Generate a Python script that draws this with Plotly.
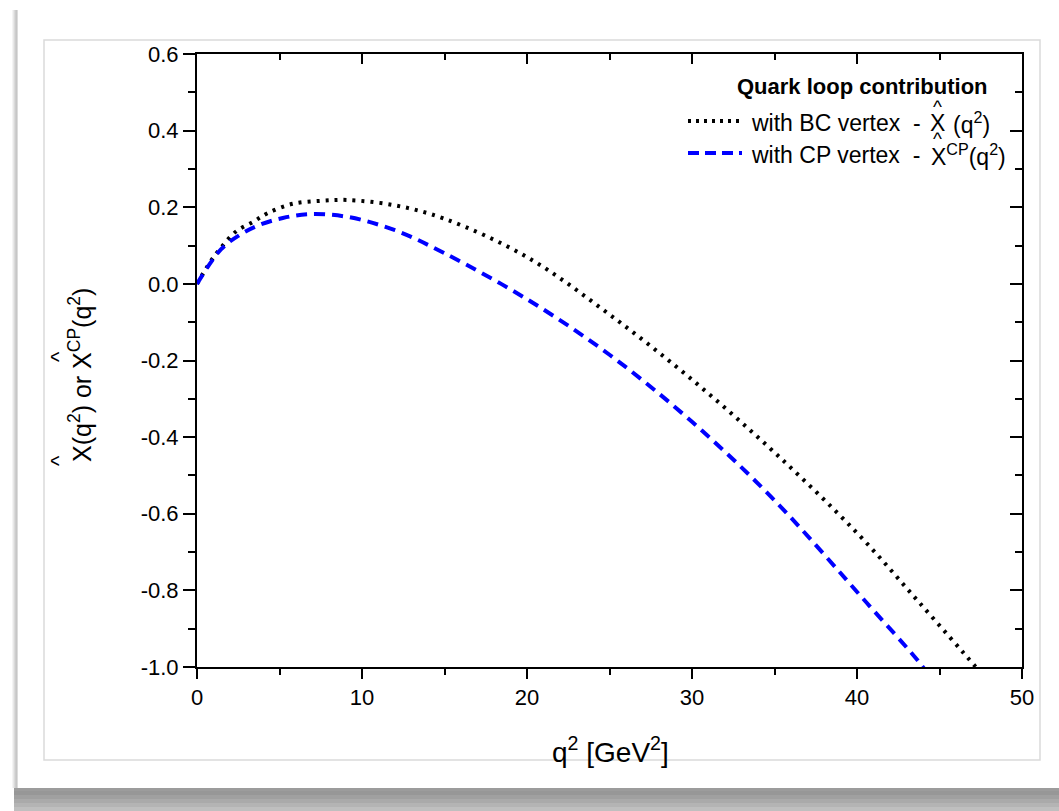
import plotly.graph_objects as go

# q^2 grid and quark-loop contribution with the Ball-Chiu (BC) vertex
q2_bc = [0.0, 0.8, 1.5, 2.4, 3.4, 4.3, 5.8, 7.6, 9.1, 12.0, 15.0, 20.0, 25.0,
         30.0, 35.0, 40.0, 43.8, 47.2, 48.0]
x_bc = [0.0, 0.057, 0.097, 0.138, 0.162, 0.185, 0.209, 0.217, 0.219, 0.205,
        0.170, 0.070, -0.080, -0.250, -0.440, -0.650, -0.833, -1.000, -1.040]

# same quantity with the Curtis-Pennington (CP) vertex
q2_cp = [0.0, 1.45, 2.6, 3.8, 5.2, 6.8, 9.1, 12.0, 15.0, 20.0, 25.0, 30.0,
         35.0, 40.6, 43.7, 44.5]
x_cp = [0.0, 0.090, 0.128, 0.154, 0.172, 0.182, 0.175, 0.140, 0.080, -0.040,
        -0.185, -0.360, -0.565, -0.833, -0.984, -1.030]

x_ticks = [0, 10, 20, 30, 40, 50]
y_ticks = [0.6, 0.4, 0.2, 0.0, -0.2, -0.4, -0.6, -0.8, -1.0]
y_tick_text = ["0.6", "0.4", "0.2", "0.0", "-0.2", "-0.4", "-0.6", "-0.8", "-1.0"]

FONT = "Liberation Sans, Arial, sans-serif"
W, H = 1059, 811
L, R, T, B = 197, 1022, 54, 667   # plot-area edges in pixels


def px(xp):
    return (xp - L) / (R - L)


def py(yp):
    return (B - yp) / (B - T)


fig = go.Figure()
fig.add_trace(go.Scatter(
    x=q2_bc, y=x_bc, mode="lines", line_shape="spline",
    line=dict(color="black", width=4, dash="3px,6px"),
    showlegend=False))
fig.add_trace(go.Scatter(
    x=q2_cp, y=x_cp, mode="lines", line_shape="spline",
    xaxis="x2", yaxis="y2",
    line=dict(color="#0000ff", width=4, dash="11px,7px"),
    showlegend=False))

axis_common = dict(showgrid=False, zeroline=False, linecolor="black",
                   linewidth=2, tickcolor="black", tickwidth=2,
                   tickfont=dict(family=FONT, size=22, color="black"))

fig.update_layout(
    width=W, height=H, autosize=False,
    margin=dict(l=L, r=W - R, t=T, b=H - B, pad=0),
    paper_bgcolor="white", plot_bgcolor="white",
    xaxis=dict(range=[0, 50], tickvals=x_ticks, ticks="outside", ticklen=10,
               showline=True, mirror=True,
               minor=dict(dtick=5, tick0=0, ticks="outside", ticklen=6,
                          tickwidth=2, tickcolor="black"),
               **axis_common),
    yaxis=dict(range=[-1.0, 0.6], tickvals=y_ticks, ticktext=y_tick_text,
               ticks="outside", ticklen=12, showline=True, mirror=True,
               minor=dict(dtick=0.1, tick0=0, ticks="outside", ticklen=7,
                          tickwidth=2, tickcolor="black"),
               **axis_common),
    xaxis2=dict(overlaying="x", matches="x", side="top", anchor="y2",
                range=[0, 50], tickvals=x_ticks, ticks="inside", ticklen=10,
                showticklabels=False, showline=False, showgrid=False,
                zeroline=False, tickcolor="black", tickwidth=2,
                minor=dict(dtick=5, tick0=0, ticks="inside", ticklen=6,
                           tickwidth=2, tickcolor="black")),
    yaxis2=dict(overlaying="y", matches="y", side="right", anchor="x2",
                range=[-1.0, 0.6], tickvals=y_ticks, ticks="inside",
                ticklen=12, showticklabels=False, showline=False,
                showgrid=False, zeroline=False, tickcolor="black", tickwidth=2,
                minor=dict(dtick=0.1, tick0=0, ticks="inside", ticklen=7,
                           tickwidth=2, tickcolor="black")),
)

# page frame: card edge shadows and the inner border
shapes = []
left_shadow = [(12, "#f4f4f4"), (13, "#e8e8e8"), (14, "#dadada"),
               (15, "#cdcdcd"), (16, "#c6c6c6"), (17, "#dcdcdc")]
for xp, col in left_shadow:
    shapes.append(dict(type="rect", xref="paper", yref="paper", layer="below",
                       x0=px(xp), x1=px(xp + 1), y0=py(788), y1=py(10),
                       fillcolor=col, line=dict(width=0)))
bottom_shadow = [(788, "#9c9c9c"), (791, "#979797"), (795, "#a0a0a0"),
                 (799, "#aaaaaa"), (803, "#b4b4b4"), (807, "#bfbfbf")]
for i, (yp, col) in enumerate(bottom_shadow):
    y_next = bottom_shadow[i + 1][0] if i + 1 < len(bottom_shadow) else 811
    shapes.append(dict(type="rect", xref="paper", yref="paper", layer="below",
                       x0=px(14), x1=px(1059), y0=py(y_next), y1=py(yp),
                       fillcolor=col, line=dict(width=0)))
shapes.append(dict(type="rect", xref="paper", yref="paper", layer="below",
                   x0=px(44), x1=px(1040), y0=py(760), y1=py(40),
                   fillcolor="rgba(0,0,0,0)",
                   line=dict(color="#dadada", width=1.5)))

# legend samples
shapes.append(dict(type="line", xref="paper", yref="paper",
                   x0=px(688), x1=px(741), y0=py(121), y1=py(121),
                   line=dict(color="black", width=4, dash="3px,5px")))
shapes.append(dict(type="line", xref="paper", yref="paper",
                   x0=px(688), x1=px(742), y0=py(153), y1=py(153),
                   line=dict(color="#0000ff", width=4, dash="11px,6px")))
fig.update_layout(shapes=shapes)


def note(xp, yp, text, size=23, xanchor="left", yanchor="middle", angle=0,
         bold=False):
    if bold:
        text = "<b>" + text + "</b>"
    fig.add_annotation(x=px(xp), y=py(yp), xref="paper", yref="paper",
                       text=text, showarrow=False, xanchor=xanchor,
                       yanchor=yanchor, textangle=angle,
                       font=dict(family=FONT, size=size, color="black"))


# legend block
note(990, 86, "Quark loop contribution", size=22, xanchor="right", bold=True)
note(749, 123, "with BC vertex  -")
note(937, 123, "X", xanchor="center")
note(951, 123, "(q<sup>2</sup>)")
note(749, 155, "with CP vertex  -")
note(929, 155, "X<sup>CP</sup>(q<sup>2</sup>)")
note(937, 106, "^", size=19, xanchor="center")
note(937, 138, "^", size=19, xanchor="center")

# axis titles
note(610, 750, "q<sup>2</sup> [GeV<sup>2</sup>]", size=28, xanchor="center")
note(80, 375, "X(q<sup>2</sup>) or X<sup>CP</sup>(q<sup>2</sup>)", size=25,
     xanchor="center", angle=-90)
note(58, 461, "^", size=22, xanchor="center", angle=-90)
note(58, 357, "^", size=22, xanchor="center", angle=-90)

fig.write_html("out.html")
